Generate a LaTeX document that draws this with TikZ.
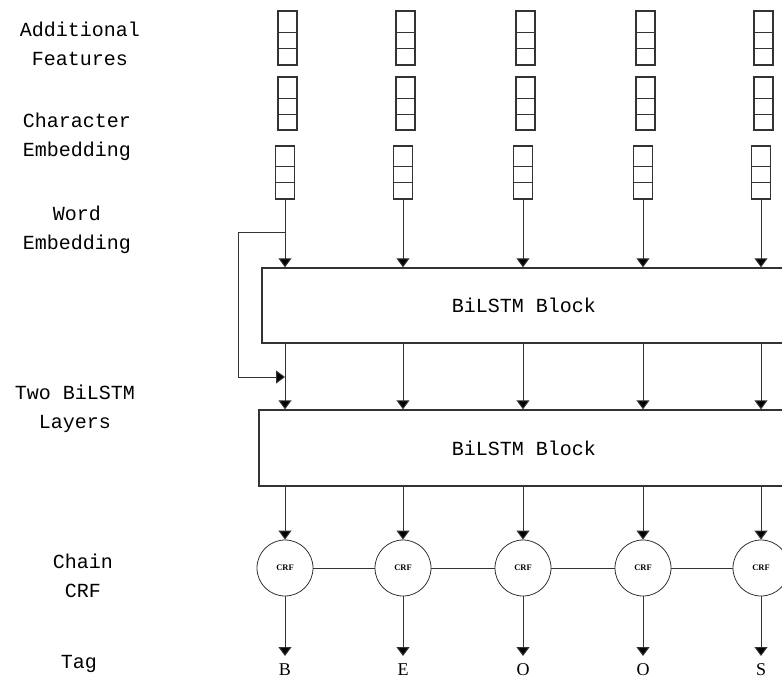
\documentclass[tikz,border=0pt]{standalone}
\usepackage{fontspec}
\setmainfont{Liberation Serif}
\newfontfamily\lblfont{Liberation Mono}
\usetikzlibrary{arrows.meta,calc}
\begin{document}
\begin{tikzpicture}[x=1pt,y=-1pt,
  ln/.style={draw=black!80, line width=1pt},
  arr/.style={ln, -{Triangle[width=13pt,length=9pt,fill=black]}},
  lbl/.style={font=\lblfont\fontsize{20}{29}\selectfont, align=center, inner sep=0},
  cell/.style={draw=black!80, line width=1.2pt, minimum width=19pt, minimum height=54pt, inner sep=0},
  block/.style={draw=black!80, line width=1.4pt, inner sep=0, font=\lblfont\fontsize{20}{24}\selectfont},
  crf/.style={circle, draw=black!80, line width=0.8pt, minimum size=56pt, inner sep=0, font=\fontsize{8.5}{8.5}\selectfont\bfseries},
  tag/.style={font=\fontsize{18}{18}\selectfont, inner sep=0}
]
\useasboundingbox (0,0) rectangle (782,678);
\clip (0,0) rectangle (782,678);

% left labels
\node[lbl] (lAF) at (80,44) {Additional\\Features};
\node[lbl] (lCE) at (77,137) {Character\\Embedding};
\node[lbl] (lWE) at (77,230) {Word\\Embedding};
\node[lbl] (lTB) at (75,409) {Two BiLSTM\\Layers};
\node[lbl] (lCC) at (83,576) {Chain\\CRF};
\node[lbl] (lT) at (79,664) {Tag};

% blocks
\node[block, minimum width=524pt, minimum height=75pt] (b1) at (524,305.5) {BiLSTM Block};
\node[block, minimum width=530pt, minimum height=76pt] (b2) at (524,448) {BiLSTM Block};

\foreach \i/\x/\t in {1/285/B,2/403/E,3/523/O,4/643/O,5/761/S}{
  \node[cell] (af\i) at (\x+2.5,38) {};
  \draw[ln] ($(af\i.north west)+(0,22)$) -- ++(19,0);
  \draw[ln] ($(af\i.north west)+(0,38)$) -- ++(19,0);
  \node[cell, minimum height=53pt] (ce\i) at (\x+2.5,103.5) {};
  \draw[ln] ($(ce\i.north west)+(0,22)$) -- ++(19,0);
  \draw[ln] ($(ce\i.north west)+(0,38)$) -- ++(19,0);
  \node[cell, minimum height=53pt] (we\i) at (\x,172.5) {};
  \draw[ln] ($(we\i.north west)+(0,21)$) -- ++(19,0);
  \draw[ln] ($(we\i.north west)+(0,37)$) -- ++(19,0);
  \node[crf] (crf\i) at (\x,568) {CRF};
  \coordinate (te\i) at (\x,656);
  \node[tag] (tag\i) at (\x,669.5) {\t};
  \draw[arr] (we\i.south) -- (we\i.south |- b1.north);
  \draw[arr] (b1.south -| we\i.south) -- (b2.north -| we\i.south);
  \draw[arr] (b2.south -| we\i.south) -- (crf\i.north);
  \draw[arr] (crf\i.south) -- (te\i);
}
\foreach \a/\b in {1/2,2/3,3/4,4/5}{
  \draw[ln] (crf\a.east) -- (crf\b.west);
}

% skip connection
\coordinate (sk1) at (238,232);
\coordinate (sk2) at (238,377);
\draw[arr] (we1.south |- sk1) -- (sk1) -- (sk2) -- (sk2 -| we1.south);
\end{tikzpicture}
\end{document}
